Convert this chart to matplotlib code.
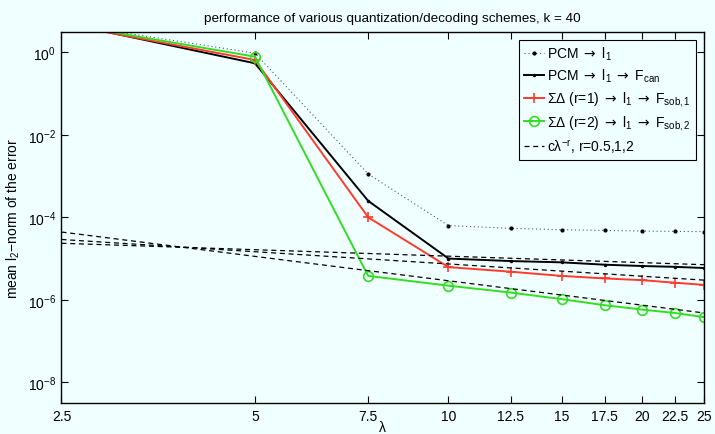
import matplotlib
matplotlib.use("Agg")
import matplotlib.pyplot as plt
from matplotlib.ticker import FixedLocator, NullLocator, FixedFormatter

plt.rcParams['font.family'] = ['Liberation Sans', 'DejaVu Sans']
plt.rcParams['mathtext.fontset'] = 'custom'
plt.rcParams['mathtext.rm'] = 'Liberation Sans'
plt.rcParams['mathtext.it'] = 'Liberation Sans:italic'
plt.rcParams['mathtext.bf'] = 'Liberation Sans:bold'
plt.rcParams['mathtext.sf'] = 'DejaVu Sans'

lam = [2.5, 5, 7.5, 10, 12.5, 15, 17.5, 20, 22.5, 25]
pcm_l1 = [5.1, 0.95, 1.12e-3, 6.3e-5, 5.4e-5, 5.0e-5, 4.8e-5, 4.65e-5, 4.55e-5, 4.5e-5]
pcm_can = [5.3, 0.54, 2.5e-4, 1.0e-5, 8.7e-6, 8.1e-6, 7.1e-6, 6.6e-6, 6.3e-6, 5.9e-6]
sd1_sob = [4.9, 0.65, 1.0e-4, 6.2e-6, 4.8e-6, 3.8e-6, 3.3e-6, 3.0e-6, 2.6e-6, 2.3e-6]
sd2_sob = [5.0, 0.78, 3.8e-6, 2.2e-6, 1.5e-6, 1.04e-6, 7.4e-7, 5.8e-7, 4.8e-7, 3.8e-7]

ref_lam = [2.5, 25]
ref_r05 = [2.35e-5, 7.1e-6]
ref_r1 = [2.9e-5, 3.0e-6]
ref_r2 = [4.4e-5, 4.8e-7]

xtick_labels = ['2.5', '5', '7.5', '10', '12.5', '15', '17.5', '20', '22.5', '25']
ytick_vals = [1e-8, 1e-6, 1e-4, 1e-2, 1e0]

A = r'$\mathsf{\rightarrow}$'

bg = '#F0FFFF'
fig = plt.figure(figsize=(7.15, 4.35), dpi=100, facecolor=bg)
ax = fig.add_axes([0.086, 0.0713, 0.899, 0.8537], facecolor=bg)

ax.plot(lam, pcm_l1, color='#555555', linestyle=(0, (1, 2.5)), linewidth=0.8,
        marker='.', markersize=4, markerfacecolor='black', markeredgecolor='black',
        label='PCM ' + A + ' l$_1$')
ax.plot(lam, pcm_can, color='black', linewidth=1.4, marker='.', markersize=3,
        label='PCM ' + A + ' l$_1$ ' + A + r' F$_{\mathrm{can}}$')
ax.plot(lam, sd1_sob, color='#FF3B2E', linewidth=1.4, marker='+', markersize=7.5,
        markeredgewidth=1.2,
        label='ΣΔ (r=1) ' + A + ' l$_1$ ' + A + r' F$_{\mathrm{sob,1}}$')
ax.plot(lam, sd2_sob, color='#33DD22', linewidth=1.4, marker='o', markersize=7,
        markerfacecolor='none', markeredgewidth=1.2,
        label='ΣΔ (r=2) ' + A + ' l$_1$ ' + A + r' F$_{\mathrm{sob,2}}$')
ax.plot(ref_lam, ref_r05, color='black', linestyle=(0, (4, 3)), linewidth=0.9,
        label=r'cλ$^{-\mathrm{r}}$, r=0.5,1,2')
ax.plot(ref_lam, ref_r1, color='black', linestyle=(0, (4, 3)), linewidth=0.9)
ax.plot(ref_lam, ref_r2, color='black', linestyle=(0, (4, 3)), linewidth=0.9)

ax.set_xscale('log')
ax.set_yscale('log')
ax.set_xlim(2.5, 25)
ax.set_ylim(10 ** -8.5, 10 ** 0.5)

ax.xaxis.set_major_locator(FixedLocator(lam))
ax.xaxis.set_major_formatter(FixedFormatter(xtick_labels))
ax.xaxis.set_minor_locator(NullLocator())
ax.yaxis.set_major_locator(FixedLocator(ytick_vals))
ax.yaxis.set_minor_locator(NullLocator())
ax.yaxis.set_major_formatter(FixedFormatter([r'10$^{-8}$', r'10$^{-6}$', r'10$^{-4}$',
                                             r'10$^{-2}$', r'10$^{0}$']))

ax.tick_params(which='both', direction='in', top=True, right=True, length=5,
               width=0.8, labelsize=10, pad=4)
for s in ax.spines.values():
    s.set_linewidth(1.0)

ax.set_title('performance of various quantization/decoding schemes, k = 40',
             fontsize=9.7, pad=8, x=0.514)
ax.set_xlabel('λ', fontsize=10, labelpad=-2)
ax.set_ylabel(r'mean l$_2$−norm of the error', fontsize=10, labelpad=4)

leg = ax.legend(loc='upper right', fontsize=10, frameon=True, fancybox=False,
                edgecolor='black', facecolor=bg, framealpha=1, handlelength=1.5,
                handletextpad=0.2, borderpad=0.35, labelspacing=0.35,
                borderaxespad=0.6)
leg.get_frame().set_linewidth(0.8)

fig.savefig('out.png', dpi=100, facecolor=bg)
